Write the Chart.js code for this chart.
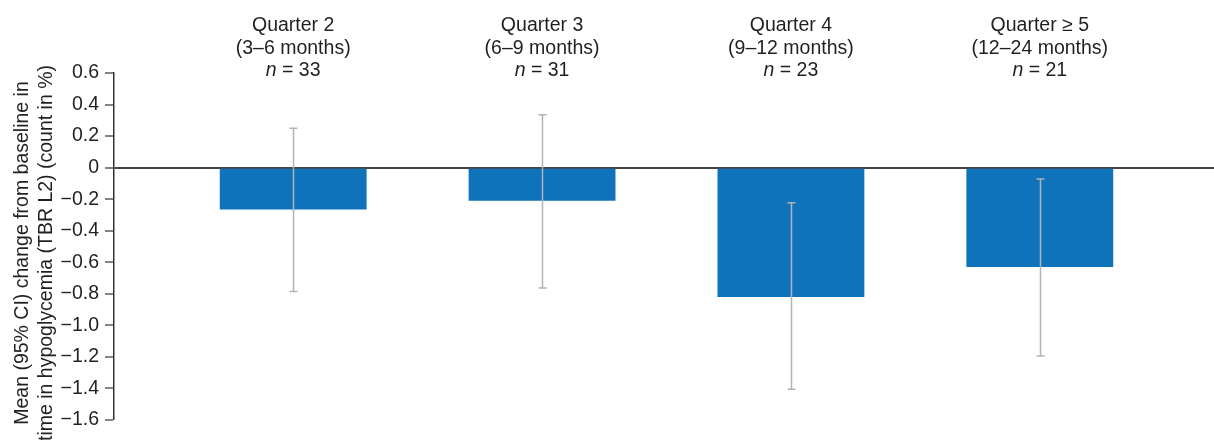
<!DOCTYPE html>
<html>
<head>
<meta charset="utf-8">
<script src="https://cdn.jsdelivr.net/npm/chart.js@4/dist/chart.umd.min.js"></script>
<style>
  html, body { margin: 0; padding: 0; background: #fff; }
  #wrap { width: 1214px; height: 440px; position: relative; }
</style>
</head>
<body>
<div id="wrap"><canvas id="chart"></canvas></div>
<script>
// Change in TBR L2 by follow-up quarter
const quarterNames = ["Quarter 2", "Quarter 3", "Quarter 4", "Quarter \u2265 5"];
const quarterRanges = ["(3\u20136 months)", "(6\u20139 months)", "(9\u201312 months)", "(12\u201324 months)"];
const quarterN = [33, 31, 23, 21];
const meanChange = [-0.265, -0.21, -0.82, -0.63];
const ciLower = [-0.785, -0.763, -1.405, -1.195];
const ciUpper = [0.25, 0.335, -0.222, -0.072];
const yTitleLines = [
  "Mean (95% CI) change from baseline in",
  "time in hypoglycemia (TBR L2) (count in %)",
];

const TEXT = "#231f20";
const FONT = "'Liberation Sans', Arial, sans-serif";
const HEAD_SIZE = 19.5;

function formatTick(v) {
  if (Math.abs(v) < 1e-9) return "0";
  const s = Math.abs(v).toFixed(1);
  return v < 0 ? "\u2212" + s : s;
}

// whiskers for the 95% CI, drawn over the bars
const ciWhiskers = {
  id: "ciWhiskers",
  afterDatasetsDraw(chart) {
    const { ctx, scales } = chart;
    const meta = chart.getDatasetMeta(0);
    ctx.save();
    ctx.strokeStyle = "#b3b3b3";
    ctx.lineWidth = 1.5;
    meta.data.forEach((bar, i) => {
      const x = Math.round(bar.x) + 0.5;
      const yLo = scales.y.getPixelForValue(ciLower[i]);
      const yHi = scales.y.getPixelForValue(ciUpper[i]);
      ctx.beginPath();
      ctx.moveTo(x, yHi);
      ctx.lineTo(x, yLo);
      ctx.moveTo(x - 4, yHi);
      ctx.lineTo(x + 4, yHi);
      ctx.moveTo(x - 4, yLo);
      ctx.lineTo(x + 4, yLo);
      ctx.stroke();
    });
    ctx.restore();
  },
};

// group headings above each bar, plus the rotated y title
const quarterHeadings = {
  id: "quarterHeadings",
  afterDraw(chart) {
    const { ctx, scales } = chart;
    const plain = HEAD_SIZE + "px " + FONT;
    const italic = "italic " + HEAD_SIZE + "px " + FONT;
    ctx.save();
    ctx.fillStyle = TEXT;
    ctx.textBaseline = "alphabetic";
    quarterNames.forEach((name, i) => {
      const cx = scales.x.getPixelForValue(i + 1);
      ctx.font = plain;
      ctx.textAlign = "center";
      ctx.fillText(name, cx, 31);
      ctx.fillText(quarterRanges[i], cx, 53.5);

      const rest = " = " + quarterN[i];
      ctx.font = italic;
      const wN = ctx.measureText("n").width;
      ctx.font = plain;
      const wRest = ctx.measureText(rest).width;
      const x0 = cx - (wN + wRest) / 2;
      ctx.textAlign = "left";
      ctx.font = italic;
      ctx.fillText("n", x0, 76);
      ctx.font = plain;
      ctx.fillText(rest, x0 + wN, 76);
    });

    // y title sits a little below the plot's mid-height
    ctx.font = plain;
    ctx.textAlign = "center";
    const midY = 253;
    yTitleLines.forEach((line, i) => {
      ctx.save();
      ctx.translate(28 + i * 23.5, midY);
      ctx.rotate(-Math.PI / 2);
      ctx.fillText(line, 0, 0);
      ctx.restore();
    });
    ctx.restore();
  },
};

new Chart(document.getElementById("chart"), {
  type: "bar",
  data: {
    datasets: [
      {
        label: "Mean change",
        data: meanChange.map((v, i) => ({ x: i + 1, y: v })),
        backgroundColor: "#0f73bb",
        borderWidth: 0,
        barPercentage: 0.59,
        categoryPercentage: 1,
      },
    ],
  },
  plugins: [ciWhiskers, quarterHeadings],
  options: {
    responsive: true,
    maintainAspectRatio: false,
    animation: false,
    layout: { padding: { top: 73, bottom: 20, left: 0, right: 0 } },
    plugins: {
      legend: { display: false },
      tooltip: { enabled: false },
    },
    scales: {
      x: {
        type: "linear",
        display: false,
        offset: false,
        min: 0.28,
        max: 4.7,
        // one tick per group so the bar width follows the group spacing
        afterBuildTicks(scale) {
          scale.ticks = quarterNames.map((_, i) => ({ value: i + 1 }));
        },
      },
      y: {
        min: -1.6,
        max: 0.6,
        afterFit(scale) {
          scale.width = 114;
        },
        border: { display: true, color: "#333", width: 1.5 },
        grid: {
          drawOnChartArea: true,
          drawTicks: true,
          tickLength: 9,
          tickColor: "#333",
          tickWidth: 1.2,
          lineWidth: (c) => (c.tick && Math.abs(c.tick.value) < 1e-9 ? 2 : 0),
          color: (c) => (c.tick && Math.abs(c.tick.value) < 1e-9 ? "#444" : "rgba(0,0,0,0)"),
        },
        ticks: {
          stepSize: 0.2,
          padding: 6,
          color: TEXT,
          font: { family: FONT, size: 19.5 },
          callback: (v) => formatTick(v),
        },
        title: { display: false },
      },
    },
  },
});
</script>
</body>
</html>
